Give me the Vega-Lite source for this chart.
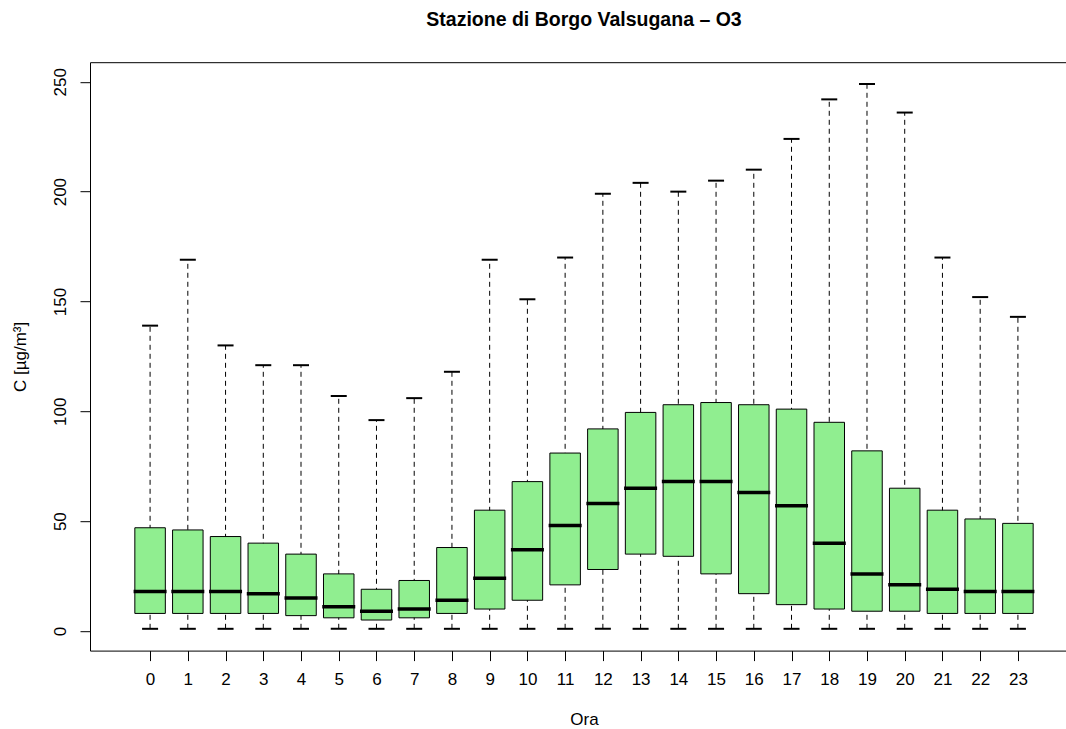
{
  "$schema": "https://vega.github.io/schema/vega-lite/v6.json",
  "autosize": "none",
  "padding": {"left": 90, "top": 62.2, "right": 0, "bottom": 78.4},
  "width": 988,
  "height": 588.4,
  "background": "white",
  "title": {
    "text": "Stazione di Borgo Valsugana – O3",
    "font": "Liberation Sans",
    "fontSize": 19.5,
    "fontWeight": "bold",
    "color": "black",
    "anchor": "middle",
    "baseline": "alphabetic",
    "offset": 17
  },
  "config": {
    "view": {"stroke": "black", "strokeWidth": 1},
    "axis": {
      "labelFont": "Liberation Sans Narrow, Liberation Sans, sans-serif",
      "titleFont": "Liberation Sans Narrow, Liberation Sans, sans-serif",
      "labelFontSize": 17,
      "titleFontSize": 17,
      "labelColor": "black",
      "titleColor": "black",
      "titleFontWeight": "normal",
      "tickColor": "black",
      "tickSize": 10,
      "grid": false,
      "domain": false
    }
  },
  "data": {
    "values": [
      {"hour": 0, "lo": 1, "q1": 8, "med": 18, "q3": 47, "hi": 139},
      {"hour": 1, "lo": 1, "q1": 8, "med": 18, "q3": 46, "hi": 169},
      {"hour": 2, "lo": 1, "q1": 8, "med": 18, "q3": 43, "hi": 130},
      {"hour": 3, "lo": 1, "q1": 8, "med": 17, "q3": 40, "hi": 121},
      {"hour": 4, "lo": 1, "q1": 7, "med": 15, "q3": 35, "hi": 121},
      {"hour": 5, "lo": 1, "q1": 6, "med": 11, "q3": 26, "hi": 107},
      {"hour": 6, "lo": 1, "q1": 5, "med": 9, "q3": 19, "hi": 96},
      {"hour": 7, "lo": 1, "q1": 6, "med": 10, "q3": 23, "hi": 106},
      {"hour": 8, "lo": 1, "q1": 8, "med": 14, "q3": 38, "hi": 118},
      {"hour": 9, "lo": 1, "q1": 10, "med": 24, "q3": 55, "hi": 169},
      {"hour": 10, "lo": 1, "q1": 14, "med": 37, "q3": 68, "hi": 151},
      {"hour": 11, "lo": 1, "q1": 21, "med": 48, "q3": 81, "hi": 170},
      {"hour": 12, "lo": 1, "q1": 28, "med": 58, "q3": 92, "hi": 199},
      {"hour": 13, "lo": 1, "q1": 35, "med": 65, "q3": 99.5, "hi": 204},
      {"hour": 14, "lo": 1, "q1": 34, "med": 68, "q3": 103, "hi": 200},
      {"hour": 15, "lo": 1, "q1": 26, "med": 68, "q3": 104, "hi": 205},
      {"hour": 16, "lo": 1, "q1": 17, "med": 63, "q3": 103, "hi": 210},
      {"hour": 17, "lo": 1, "q1": 12, "med": 57, "q3": 101, "hi": 224},
      {"hour": 18, "lo": 1, "q1": 10, "med": 40, "q3": 95, "hi": 242},
      {"hour": 19, "lo": 1, "q1": 9, "med": 26, "q3": 82, "hi": 249},
      {"hour": 20, "lo": 1, "q1": 9, "med": 21, "q3": 65, "hi": 236},
      {"hour": 21, "lo": 1, "q1": 8, "med": 19, "q3": 55, "hi": 170},
      {"hour": 22, "lo": 1, "q1": 8, "med": 18, "q3": 51, "hi": 152},
      {"hour": 23, "lo": 1, "q1": 8, "med": 18, "q3": 49, "hi": 143}
    ]
  },
  "encoding": {
    "x": {
      "field": "hour",
      "type": "quantitative",
      "scale": {"domain": [-1.46, 24.46], "nice": false, "zero": false},
      "axis": {
        "title": "Ora",
        "values": [0,1,2,3,4,5,6,7,8,9,10,11,12,13,14,15,16,17,18,19,20,21,22,23],
        "labelPadding": 11,
        "labelFlush": false,
        "labelOverlap": false,
        "titleBaseline": "alphabetic",
        "titleY": 74,
        "titleX": 494
      }
    }
  },
  "layer": [
    {
      "mark": {"type": "rule", "stroke": "black", "strokeWidth": 1, "strokeDash": [5, 4]},
      "encoding": {
        "y": {
          "field": "lo",
          "type": "quantitative",
          "scale": {"domain": [-8.92, 258.92], "nice": false, "zero": false},
          "axis": {
            "title": "C [µg/m³]",
            "values": [0, 50, 100, 150, 200, 250],
            "labelAngle": 270,
            "labelAlign": "center",
            "labelBaseline": "middle",
            "labelPadding": 20,
            "titleAngle": 270,
            "titleBaseline": "middle",
            "titleX": -70
          }
        },
        "y2": {"field": "hi"}
      }
    },
    {
      "mark": {"type": "bar", "size": 30.5, "fill": "#90EE90", "stroke": "black", "strokeWidth": 1},
      "encoding": {
        "y": {"field": "q1", "type": "quantitative"},
        "y2": {"field": "q3"}
      }
    },
    {
      "mark": {"type": "tick", "orient": "horizontal", "size": 16, "thickness": 2, "color": "black", "opacity": 1},
      "encoding": {"y": {"field": "hi", "type": "quantitative"}}
    },
    {
      "mark": {"type": "tick", "orient": "horizontal", "size": 16, "thickness": 2, "color": "black", "opacity": 1},
      "encoding": {"y": {"field": "lo", "type": "quantitative"}}
    },
    {
      "mark": {"type": "tick", "orient": "horizontal", "size": 33, "thickness": 3.5, "color": "black", "opacity": 1},
      "encoding": {"y": {"field": "med", "type": "quantitative"}}
    }
  ]
}
